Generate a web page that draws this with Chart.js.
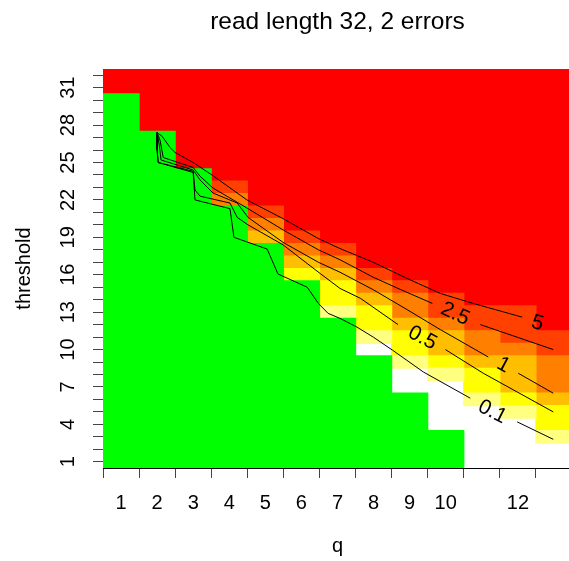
<!DOCTYPE html>
<html>
<head>
<meta charset="utf-8">
<script src="https://cdn.jsdelivr.net/npm/chart.js@4/dist/chart.umd.min.js"></script>
<style>
  html, body { margin: 0; padding: 0; background: #fff; overflow: hidden; }
  #wrap { width: 572px; height: 561px; }
</style>
</head>
<body>
<div id="wrap"><canvas id="chart" width="572" height="561"></canvas></div>
<script>
const qValues = [1, 2, 3, 4, 5, 6, 7, 8, 9, 10, 11, 12, 13];
const qLabels = ["1", "2", "3", "4", "5", "6", "7", "8", "9", "10", "", "12", ""];
const thresholdTicks = [1, 2, 3, 4, 5, 6, 7, 8, 9, 10, 11, 12, 13, 14, 15, 16, 17, 18, 19, 20, 21, 22, 23, 24, 25, 26, 27, 28, 29, 30, 31, 32];
const thresholdLabels = [1, 4, 7, 10, 13, 16, 19, 22, 25, 28, 31];
const thresholdMax = 32;

// cells per column, counted from threshold 1 upwards; whatever is left is red
const greenRows     = [30, 27, 24, 21, 18, 15, 12, 9, 6, 3, 0, 0, 0];
const whiteRows     = [0, 0, 0, 0, 0, 0, 0, 1, 2, 4, 5, 4, 2];
const paleRows      = [0, 0, 0, 0, 0, 0, 1, 1, 1, 1, 1, 1, 1];
const yellowRows    = [0, 0, 0, 0, 0, 1, 2, 2, 2, 1, 2, 1, 2];
const amberRows     = [0, 0, 0, 0, 1, 1, 1, 1, 1, 2, 1, 3, 1];
const orangeRows    = [0, 0, 0, 1, 1, 1, 1, 1, 2, 1, 2, 1, 3];
const redOrangeRows = [0, 0, 0, 1, 1, 1, 1, 1, 1, 2, 2, 3, 2];

// contour lines [q, threshold], null = gap for the label
const contourLevels = ["0.1", "0.5", "1", "2.5", "5"];
const contour01 = [[2.0, 27.4], [2.0, 26.0], [2.03, 25.0], [3.0, 24.2], [3.05, 22.0], [4.02, 21.3], [4.13, 19.0], [5.05, 18.06], [5.35, 16.06], [6.16, 15.0], [6.47, 13.7], [6.74, 12.9], [7.07, 12.5], [7.54, 11.8], [7.99, 11.0], [8.52, 9.96], [9.38, 8.2], [10.68, 6.1], null, [11.98, 4.2], [12.98, 2.8]];
const contour05 = [[2.0, 27.4], [2.0, 26.0], [2.03, 25.0], [3.0, 24.3], [3.05, 22.8], [3.19, 22.3], [4.02, 21.75], [4.22, 20.6], [4.52, 20.0], [5.49, 18.4], [6.16, 16.9], [6.52, 16.1], [7.07, 14.9], [7.64, 14.1], [8.68, 12.0], null, [9.99, 10.0], [11.04, 8.1], [12.98, 5.0]];
const contour1 = [[2.0, 27.4], [2.06, 26.4], [2.11, 25.2], [3.0, 24.4], [3.19, 23.6], [3.55, 22.55], [4.22, 21.75], [4.52, 20.6], [5.49, 18.6], [6.47, 17.0], [7.07, 16.2], [7.99, 14.8], [8.93, 13.2], [9.85, 11.6], [11.18, 9.4], null, [12.01, 8.1], [12.98, 6.5]];
const contour25 = [[2.0, 27.4], [2.08, 26.8], [2.17, 25.4], [3.0, 24.6], [3.19, 23.9], [3.55, 22.95], [4.49, 21.35], [5.49, 19.6], [6.47, 18.0], [7.07, 17.2], [7.99, 15.8], [8.68, 14.9], [9.63, 13.7], null, [10.96, 12.0], [12.98, 10.0]];
const contour5 = [[2.0, 27.4], [2.14, 27.1], [2.36, 26.2], [2.5, 25.8], [3.0, 25.0], [3.52, 24.0], [4.49, 22.0], [5.49, 20.5], [6.47, 18.9], [7.07, 18.1], [7.99, 17.0], [8.93, 15.7], [9.85, 14.5], [10.76, 13.7], [12.12, 12.6]];
const contourLines = [contour01, contour05, contour1, contour25, contour5];
// label position [q, threshold] and slope in degrees
const contourLabelAt = [[11.29, 5.0, 27], [9.35, 10.92, 28], [11.6, 8.76, 28], [10.26, 12.85, 25], [12.54, 12.1, 16]];

const bands = [
  { rows: greenRows, color: "#00FF00" },
  { rows: whiteRows, color: null },
  { rows: paleRows, color: "#FFFF80" },
  { rows: yellowRows, color: "#FFFF00" },
  { rows: amberRows, color: "#FFBF00" },
  { rows: orangeRows, color: "#FF8000" },
  { rows: redOrangeRows, color: "#FF4000" },
];

function buildCellDatasets() {
  const base = qValues.map(function () { return 0.5; });
  const datasets = [];
  bands.forEach(function (band) {
    const data = [];
    qValues.forEach(function (q, i) {
      const n = band.rows[i];
      if (n > 0) {
        data.push({ x: q, y: [base[i], base[i] + n] });
      }
      base[i] += n;
    });
    if (band.color) {
      datasets.push(cellDataset(data, band.color));
    }
  });
  const red = qValues.map(function (q, i) {
    return { x: q, y: [base[i], thresholdMax + 0.5] };
  });
  datasets.push(cellDataset(red, "#FF0000"));
  return datasets;
}

function cellDataset(data, color) {
  return {
    type: "bar",
    data: data,
    backgroundColor: color,
    borderWidth: 0,
    inflateAmount: 0.6,
    grouped: false,
    barPercentage: 1,
    categoryPercentage: 1,
    order: 2,
  };
}

function contourDatasets() {
  return contourLines.map(function (line) {
    return {
      type: "line",
      data: line.map(function (p) {
        return p ? { x: p[0], y: p[1] } : { x: null, y: null };
      }),
      borderColor: "#000",
      borderWidth: 1,
      pointRadius: 0,
      tension: 0,
      spanGaps: false,
      order: 0,
    };
  });
}

const labelPlugin = {
  id: "extraText",
  afterDatasetsDraw: function (chart) {
    const ctx = chart.ctx;
    const xs = chart.scales.x;
    const ys = chart.scales.y;
    ctx.save();
    ctx.fillStyle = "#000";
    ctx.textAlign = "center";
    ctx.textBaseline = "middle";
    ctx.font = "21px 'Liberation Sans', Arial, sans-serif";
    contourLabelAt.forEach(function (pos, i) {
      ctx.save();
      ctx.translate(xs.getPixelForValue(pos[0]), ys.getPixelForValue(pos[1]));
      ctx.rotate(pos[2] * Math.PI / 180);
      ctx.fillText(contourLevels[i], 0, 0);
      ctx.restore();
    });
    ctx.font = "20px 'Liberation Sans', Arial, sans-serif";
    thresholdLabels.forEach(function (v) {
      ctx.save();
      ctx.translate(chart.chartArea.left - 35, ys.getPixelForValue(v));
      ctx.rotate(-Math.PI / 2);
      ctx.fillText(String(v), 0, 0);
      ctx.restore();
    });
    ctx.restore();
  },
};

Chart.defaults.font.family = "'Liberation Sans', Arial, sans-serif";
Chart.defaults.color = "#000";

new Chart(document.getElementById("chart"), {
  data: {
    datasets: buildCellDatasets().concat(contourDatasets()),
  },
  options: {
    responsive: false,
    animation: false,
    layout: { padding: 0 },
    plugins: {
      legend: { display: false },
      tooltip: { enabled: false },
      title: {
        display: true,
        fullSize: false,
        text: "read length 32, 2 errors",
        font: { size: 24.5, weight: "normal" },
        color: "#000",
        padding: { top: 8, bottom: 31.6 },
      },
    },
    scales: {
      x: {
        type: "linear",
        min: 0.5,
        max: 13.5,
        offset: false,
        afterBuildTicks: function (scale) {
          scale.ticks = qValues.map(function (v) { return { value: v }; });
        },
        afterFit: function (scale) {
          scale.height = 93;
        },
        ticks: {
          font: { size: 20 },
          padding: 13,
          maxRotation: 0,
          autoSkip: false,
          callback: function (value) {
            return qLabels[qValues.indexOf(value)];
          },
        },
        grid: {
          drawOnChartArea: false,
          drawTicks: true,
          tickLength: 10,
          color: "#444",
        },
        border: { display: true, color: "#000", width: 1 },
        title: {
          display: true,
          text: "q",
          font: { size: 20 },
          padding: { top: 0, bottom: 3 },
        },
      },
      y: {
        type: "linear",
        min: 0.5,
        max: thresholdMax + 0.5,
        afterBuildTicks: function (scale) {
          scale.ticks = thresholdTicks.map(function (v) { return { value: v }; });
        },
        afterFit: function (scale) {
          scale.width = 103;
        },
        ticks: { display: false },
        grid: {
          drawOnChartArea: false,
          drawTicks: true,
          tickLength: 10,
          color: "#444",
        },
        border: { display: true, color: "#000", width: 1 },
        title: {
          display: true,
          text: "threshold",
          font: { size: 20 },
          padding: { top: 12, bottom: 0 },
        },
      },
    },
  },
  plugins: [labelPlugin],
});
</script>
</body>
</html>
